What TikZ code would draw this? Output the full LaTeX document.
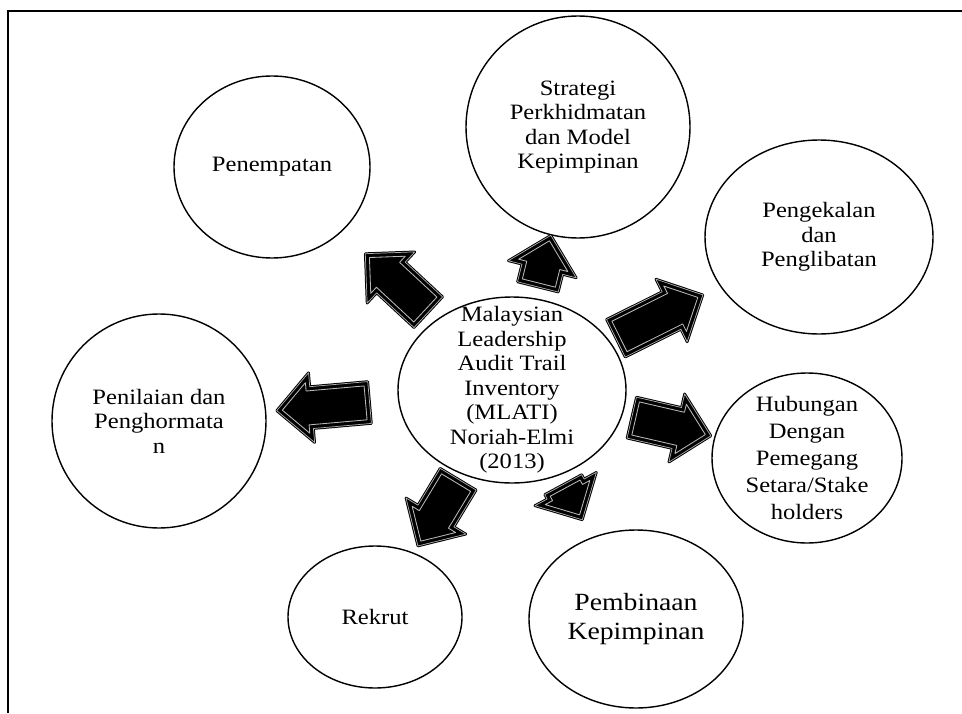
\documentclass[tikz,border=0pt]{standalone}
\usepackage{fontspec}
\setmainfont{Liberation Serif}[FakeStretch=1.12]
\usetikzlibrary{shapes.geometric}
\newcommand{\bubfont}{\fontsize{15.6}{17.4}\selectfont}
\newcommand{\bigbubfont}{\fontsize{17.6}{20.6}\selectfont}
\tikzset{
  bubble/.style={ellipse, draw, line width=1pt, inner sep=-0.6cm, align=center, font=\bubfont},
  toarrow/.style={pos=#1, sloped, allow upside down},
  blkarrow/.pic={
    \filldraw[black, double=gray!60, double distance=0.5pt, line width=0.7pt, line join=round]
      ({-#1/2},-0.525) -- ({#1/2-0.875},-0.525) -- ({#1/2-0.875},-0.875) -- ({#1/2},0)
      -- ({#1/2-0.875},0.875) -- ({#1/2-0.875},0.525) -- ({-#1/2},0.525) -- cycle;
    \draw[gray!55, line width=0.6pt, line join=round]
      ({-#1/2+0.1},-0.425) -- ({#1/2-0.775},-0.425) -- ({#1/2-0.775},-0.634) -- ({#1/2-0.141},0)
      -- ({#1/2-0.775},0.634) -- ({#1/2-0.775},0.425) -- ({-#1/2+0.1},0.425) -- cycle;
  }
}
\begin{document}
\begin{tikzpicture}
\useasboundingbox (0,0) rectangle (24.05,17.825);
\draw[line width=1.2pt] (24.05,17.55) -- (0.2,17.55) -- (0.2,0);
\node[bubble, minimum width=5.7cm, minimum height=4.65cm] (mlati) at (12.8,8.075)
  {Malaysian\\Leadership\\Audit Trail\\Inventory\\(MLATI)\\Noriah-Elmi\\(2013)};
\node[bubble, minimum width=4.9cm, minimum height=4.55cm] (penempatan) at (6.8,13.65) {Penempatan};
\node[bubble, minimum width=5.6cm, minimum height=5.55cm] (strategi) at (14.45,14.65)
  {Strategi\\Perkhidmatan\\dan Model\\Kepimpinan};
\node[bubble, minimum width=5.7cm, minimum height=4.85cm] (pengekalan) at (20.475,11.9)
  {Pengekalan\\dan\\Penglibatan};
\node[bubble, minimum width=4.75cm, minimum height=4.25cm, font=\fontsize{15.6}{19.2}\selectfont] (hubungan) at (20.175,6.375)
  {Hubungan\\Dengan\\Pemegang\\Setara/Stake\\holders};
\node[bubble, minimum width=5.35cm, minimum height=4.45cm, font=\bigbubfont] (pembinaan) at (15.9,2.35)
  {Pembinaan\\Kepimpinan};
\node[bubble, minimum width=4.35cm, minimum height=3.55cm] (rekrut) at (9.375,2.4) {Rekrut};
\node[bubble, minimum width=5.35cm, minimum height=5.35cm] (penilaian) at (3.975,7.3)
  {Penilaian dan\\Penghormata\\n};
\path (mlati.center) -- (penempatan.center) pic[toarrow=.48]{blkarrow=2.15};
\path (mlati.center) -- (strategi.center) pic[toarrow=.49]{blkarrow=1.33};
\path (mlati.center) -- (pengekalan.center) pic[toarrow=.48]{blkarrow=2.43};
\path (mlati.center) -- (hubungan.center) pic[toarrow=.54]{blkarrow=2.03};
\path (mlati.center) -- (pembinaan.center) pic[toarrow=.49]{blkarrow=1.0};
\path (mlati.center) -- (rekrut.center) pic[toarrow=.54]{blkarrow=1.95};
\path (mlati.center) -- (penilaian.center) pic[toarrow=.535]{blkarrow=2.33};
\end{tikzpicture}
\end{document}
